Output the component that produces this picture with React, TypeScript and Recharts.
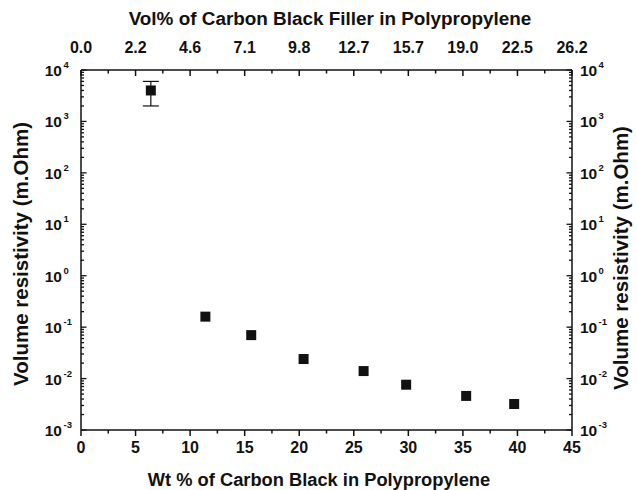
import React from 'react';
import { ScatterChart, Scatter, XAxis, YAxis, ErrorBar } from 'recharts';

// wt% of carbon black vs measured volume resistivity
const wtPercent = [6.4, 11.4, 15.6, 20.4, 25.9, 29.8, 35.3, 39.7];
const resistivity = [4000, 0.16, 0.07, 0.024, 0.014, 0.0076, 0.0046, 0.0032];
const errLow = [2000];
const errHigh = [2000];

// bottom axis ticks and the matching vol% labels for the top axis
const wtTicks = [0, 5, 10, 15, 20, 25, 30, 35, 40, 45];
const volLabels = ['0.0', '2.2', '4.6', '7.1', '9.8', '12.7', '15.7', '19.0', '22.5', '26.2'];
const decades = [-3, -2, -1, 0, 1, 2, 3, 4];

const FONT = '"Liberation Sans", Arial, sans-serif';
const INK = '#111';

const points = wtPercent.map((x, i) => ({
  x,
  y: resistivity[i],
  err: i < errLow.length ? [errLow[i], errHigh[i]] : undefined,
}));
const withErr = points.filter(p => p.err);
const noErr = points.filter(p => !p.err);

// major + minor ticks
const xTicks: number[] = [];
wtTicks.forEach((t, i) => {
  xTicks.push(t);
  if (i < wtTicks.length - 1) xTicks.push(t + 2.5);
});
const yTicks: number[] = [];
decades.forEach((d, i) => {
  yTicks.push(Math.pow(10, d));
  if (i < decades.length - 1) {
    for (let m = 2; m <= 9; m++) yTicks.push(+(m * Math.pow(10, d)).toPrecision(3));
  }
});

const isMajorY = (v: number) => {
  const l = Math.log10(v);
  return Math.abs(l - Math.round(l)) < 1e-6;
};

const XTick = (props: any) => {
  const x = Number(props.x);
  const y = Number(props.y);
  const v = props.payload.value;
  const major = Math.abs(v % 5) < 1e-6;
  const len = major ? 6 : 3.5;
  const idx = wtTicks.indexOf(v);
  const bottom = props.side === 'bottom';
  return (
    <g>
      <line x1={x} x2={x} y1={y} y2={y + len} stroke={INK} strokeWidth={1.5} />
      {major && (
        <text
          x={x}
          y={bottom ? y + 23 : y - 17}
          textAnchor="middle"
          fontFamily={FONT}
          fontWeight="bold"
          fontSize={16}
          fill={INK}
        >
          {bottom ? String(v) : volLabels[idx]}
        </text>
      )}
    </g>
  );
};

const YTick = (props: any) => {
  const x = Number(props.x);
  const y = Number(props.y);
  const v = props.payload.value;
  const major = isMajorY(v);
  const len = major ? 5.5 : 3;
  const exp = Math.round(Math.log10(v));
  const left = props.side === 'left';
  const baseX = left ? x - 19 : x + 8;
  return (
    <g>
      <line x1={x} x2={left ? x + len : x - len} y1={y} y2={y} stroke={INK} strokeWidth={1.3} />
      {major && (
        <text
          x={baseX}
          y={y + 6}
          textAnchor={left ? 'end' : 'start'}
          fontFamily={FONT}
          fontWeight="bold"
          fontSize={15.5}
          fill={INK}
        >
          10
        </text>
      )}
      {major && (
        <text
          x={left ? baseX + 1.5 : baseX + 18.5}
          y={y - 2}
          textAnchor="start"
          fontFamily={FONT}
          fontWeight="bold"
          fontSize={9.5}
          fill={INK}
        >
          {exp}
        </text>
      )}
    </g>
  );
};

const Square = (props: any) => {
  const { cx, cy } = props;
  return <rect x={cx - 5} y={cy - 5} width={10} height={10} fill={INK} />;
};

const titleStyle = { fontFamily: FONT, fontWeight: 'bold' as const, fill: INK };

export default function App() {
  return (
    <div style={{ position: 'absolute', left: 0, top: 0, width: 637, height: 490, background: '#fff' }}>
      <ScatterChart width={637} height={490} margin={{ top: 0, right: 0, bottom: 0, left: 0 }}>
        <XAxis
          xAxisId="bottom"
          dataKey="x"
          type="number"
          domain={[0, 45]}
          allowDataOverflow
          ticks={xTicks}
          interval={0}
          height={60}
          orientation="bottom"
          tickSize={0}
          tickMargin={0}
          tickLine={false}
          axisLine={{ stroke: INK, strokeWidth: 1.5 }}
          tick={(p: any) => <XTick {...p} side="bottom" />}
          label={{
            content: () => (
              <text x={319} y={486} textAnchor="middle" fontSize={18.3} {...titleStyle}>
                Wt % of Carbon Black in Polypropylene
              </text>
            ),
          }}
        />
        <XAxis
          xAxisId="top"
          dataKey="x"
          type="number"
          domain={[0, 45]}
          allowDataOverflow
          ticks={xTicks}
          interval={0}
          height={70}
          orientation="top"
          tickSize={0}
          tickMargin={0}
          tickLine={false}
          axisLine={{ stroke: INK, strokeWidth: 1.5 }}
          tick={(p: any) => <XTick {...p} side="top" />}
          label={{
            content: () => (
              <text x={330} y={25} textAnchor="middle" fontSize={18.9} {...titleStyle}>
                Vol% of Carbon Black Filler in Polypropylene
              </text>
            ),
          }}
        />
        <YAxis
          yAxisId="left"
          dataKey="y"
          type="number"
          scale="log"
          domain={[0.001, 10000]}
          allowDataOverflow
          ticks={yTicks}
          interval={0}
          width={81}
          orientation="left"
          tickSize={0}
          tickMargin={0}
          tickLine={false}
          axisLine={{ stroke: INK, strokeWidth: 1.5 }}
          tick={(p: any) => <YTick {...p} side="left" />}
          label={{
            content: () => {
              const cx = 28;
              const cy = 254;
              return (
                <text x={cx} y={cy} textAnchor="middle" fontSize={20.5} transform={`rotate(-90 ${cx} ${cy})`} {...titleStyle}>
                  Volume resistivity (m.Ohm)
                </text>
              );
            },
          }}
        />
        <YAxis
          yAxisId="right"
          dataKey="y"
          type="number"
          scale="log"
          domain={[0.001, 10000]}
          allowDataOverflow
          ticks={yTicks}
          interval={0}
          width={65}
          orientation="right"
          tickSize={0}
          tickMargin={0}
          tickLine={false}
          axisLine={{ stroke: INK, strokeWidth: 1.5 }}
          tick={(p: any) => <YTick {...p} side="right" />}
          label={{
            content: () => {
              const cx = 628;
              const cy = 258;
              return (
                <text x={cx} y={cy} textAnchor="middle" fontSize={20.5} transform={`rotate(-90 ${cx} ${cy})`} {...titleStyle}>
                  Volume resistivity (m.Ohm)
                </text>
              );
            },
          }}
        />
        <Scatter
          data={withErr}
          xAxisId="bottom"
          yAxisId="left"
          shape={<Square />}
          isAnimationActive={false}
        >
          <ErrorBar dataKey="err" direction="y" width={8} stroke={INK} strokeWidth={1.2} />
        </Scatter>
        <Scatter
          data={noErr}
          xAxisId="bottom"
          yAxisId="left"
          shape={<Square />}
          isAnimationActive={false}
        />
      </ScatterChart>
    </div>
  );
}
